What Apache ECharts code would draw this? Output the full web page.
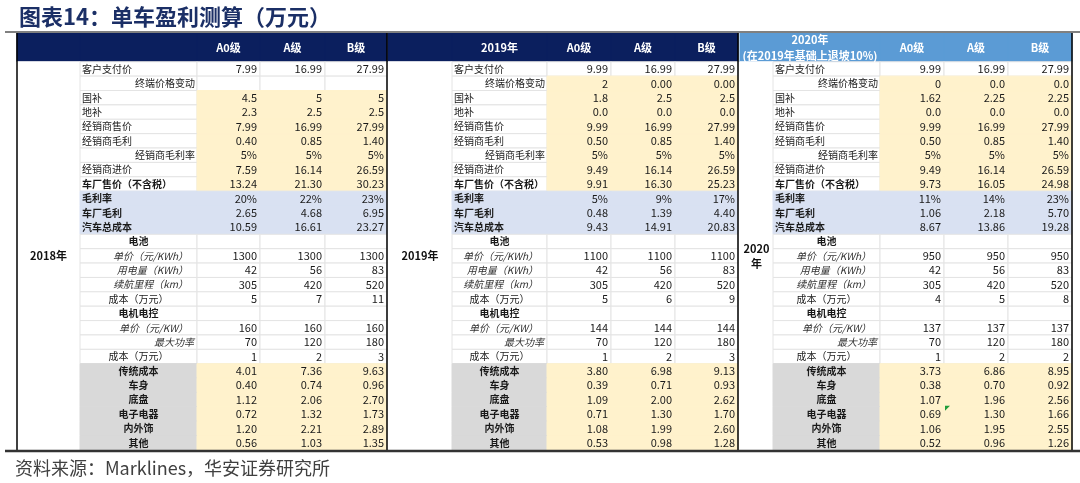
<!DOCTYPE html>
<html><head><meta charset="utf-8">
<script src="https://cdn.jsdelivr.net/npm/echarts@6/dist/echarts.min.js"></script>
<style>html,body{margin:0;padding:0;background:#fff}#c{width:1080px;height:483px}</style>
</head><body><div id="c"></div>
<script>
// ---------------- DATA ----------------
const chartTitle = '图表14：单车盈利测算（万元）';
const sourceText = '资料来源：Marklines，华安证券研究所';
const classes = ['A0级', 'A级', 'B级'];
const headLabels = ['', '2019年', '2020年\n(在2019年基础上退坡10%)'];
const yearLabels = ['2018年', '2019年', '2020\n年'];
const rowLabels = ['客户支付价','终端价格变动','国补','地补','经销商售价','经销商毛利','经销商毛利率','经销商进价','车厂售价（不含税）',
  '毛利率','车厂毛利','汽车总成本','电池','单价（元/KWh）','用电量（KWh）','续航里程（km）','成本（万元）',
  '电机电控','单价（元/KW）','最大功率','成本（万元）','传统成本','车身','底盘','电子电器','内外饰','其他'];

const a0_2018 = ['7.99','','4.5','2.3','7.99','0.40','5%','7.59','13.24','20%','2.65','10.59','','1300','42','305','5','','160','70','1','4.01','0.40','1.12','0.72','1.20','0.56'];
const a_2018  = ['16.99','','5','2.5','16.99','0.85','5%','16.14','21.30','22%','4.68','16.61','','1300','56','420','7','','160','120','2','7.36','0.74','2.06','1.32','2.21','1.03'];
const b_2018  = ['27.99','','5','2.5','27.99','1.40','5%','26.59','30.23','23%','6.95','23.27','','1300','83','520','11','','160','180','3','9.63','0.96','2.70','1.73','2.89','1.35'];

const a0_2019 = ['9.99','2','1.8','0.0','9.99','0.50','5%','9.49','9.91','5%','0.48','9.43','','1100','42','305','5','','144','70','1','3.80','0.39','1.09','0.71','1.08','0.53'];
const a_2019  = ['16.99','0.00','2.5','0.0','16.99','0.85','5%','16.14','16.30','9%','1.39','14.91','','1100','56','420','6','','144','120','2','6.98','0.71','2.00','1.30','1.99','0.98'];
const b_2019  = ['27.99','0.00','2.5','0.0','27.99','1.40','5%','26.59','25.23','17%','4.40','20.83','','1100','83','520','9','','144','180','3','9.13','0.93','2.62','1.70','2.60','1.28'];

const a0_2020 = ['9.99','0','1.62','0.0','9.99','0.50','5%','9.49','9.73','11%','1.06','8.67','','950','42','305','4','','137','70','1','3.73','0.38','1.07','0.69','1.06','0.52'];
const a_2020  = ['16.99','0.0','2.25','0.0','16.99','0.85','5%','16.14','16.05','14%','2.18','13.86','','950','56','420','5','','137','120','2','6.86','0.70','1.96','1.30','1.95','0.96'];
const b_2020  = ['27.99','0.0','2.25','0.0','27.99','1.40','5%','26.59','24.98','23%','5.70','19.28','','950','83','520','8','','137','180','2','8.95','0.92','2.56','1.66','2.55','1.26'];

const panelValues = [[a0_2018, a_2018, b_2018], [a0_2019, a_2019, b_2019], [a0_2020, a_2020, b_2020]];
// cells carrying an Excel comment marker: [panel, classIndex, row]
const commentCells = [[2, 1, 24]];

// ---------------- LAYOUT / STYLE ----------------
const FILL = { w: '#FFFFFF', y: '#FFF2CC', b: '#D9E1F2', g: '#D9D9D9' };
const dataFill  = ['w','t','y','y','y','y','y','y','y','b','b','b','w','w','w','w','w','w','w','w','w','y','y','y','y','y','y'];
const labelFill = ['w','w','w','w','w','w','w','w','w','b','b','b','w','w','w','w','w','w','w','w','w','g','g','g','g','g','g'];
const labelAlign = ['l','r','l','l','l','l','r','l','l','l','l','l','c','r','r','r','c','c','r','r','c','c','c','c','c','c','c'];
const labelBold  = [0,0,0,0,0,0,0,0,1,1,1,1,1,0,0,0,0,1,0,0,0,1,1,1,1,1,1];
const labelItal  = [0,0,0,0,0,0,0,0,0,0,0,0,0,1,1,1,0,0,1,1,0,0,0,0,0,0,0];
const labelPad   = [2,2,2,2,2,2,2,2,2,2,2,2,0,9,9,9,0,0,9,3,0,0,0,0,0,0,0];

const panels = [
  { left: 17,  widths: [63,117,63,65,62], head: '#0B1F5E', rowT: 'w', headMerge: false, vlines: [0, 5] },
  { left: 388, widths: [64,95,64,64,63],  head: '#0B1F5E', rowT: 'y', headMerge: false, vlines: [5] },
  { left: 740, widths: [33,107,64,64,64], head: '#5B9BD5', rowT: 'y', headMerge: true,  vlines: [5] }
];
const GRID_TOP = 33, GRID_H = 417, Y_MAX = 29, HEAD_ROWS = 2;
const CJK = "'Noto Sans CJK SC', sans-serif";
const NUM = "'Liberation Sans Narrow', 'Noto Sans CJK SC', sans-serif";

function buildCells(p) {
  const P = panels[p], cells = [];
  // header
  if (P.headMerge) {
    cells.push({ c0: 0, c1: 2, r0: 0, r1: HEAD_ROWS, fill: P.head, text: headLabels[p], color: '#fff', bold: 1, size: 11, align: 'c', font: CJK, lh: 16 });
  } else {
    cells.push({ c0: 0, c1: 1, r0: 0, r1: HEAD_ROWS, fill: P.head, text: '', color: '#fff' });
    cells.push({ c0: 1, c1: 2, r0: 0, r1: HEAD_ROWS, fill: P.head, text: headLabels[p], color: '#fff', bold: 1, size: 11, align: 'c', font: CJK });
  }
  classes.forEach((t, i) => cells.push({ c0: 2 + i, c1: 3 + i, r0: 0, r1: HEAD_ROWS, fill: P.head, text: t, color: '#fff', bold: 1, size: 11, align: 'c', font: CJK }));
  // year (merged)
  cells.push({ c0: 0, c1: 1, r0: HEAD_ROWS, r1: Y_MAX, fill: '#fff', text: yearLabels[p], color: '#111', bold: 1, size: 11, align: 'c', font: CJK, lh: 15 });
  // rows
  rowLabels.forEach((lab, r) => {
    const lf = FILL[labelFill[r]];
    cells.push({ c0: 1, c1: 2, r0: HEAD_ROWS + r, r1: HEAD_ROWS + r + 1, fill: lf, stroke: labelFill[r] === 'w' ? '#E4E4E4' : lf,
      text: lab, color: labelItal[r] ? '#333' : '#1a1a1a', bold: labelBold[r], italic: labelItal[r], size: 10, align: labelAlign[r], pad: labelPad[r], font: CJK });
    for (let k = 0; k < 3; k++) {
      const kind = dataFill[r] === 't' ? P.rowT : dataFill[r];
      const f = FILL[kind];
      cells.push({ c0: 2 + k, c1: 3 + k, r0: HEAD_ROWS + r, r1: HEAD_ROWS + r + 1, fill: f, stroke: kind === 'w' ? '#E4E4E4' : f,
        text: panelValues[p][k][r], color: '#1a1a1a', size: 11, align: 'r', pad: 3, font: NUM });
    }
  });
  commentCells.filter(m => m[0] === p).forEach(m => cells.push({ kind: 'tri', c0: 2 + m[1], c1: 3 + m[1], r0: HEAD_ROWS + m[2], r1: HEAD_ROWS + m[2] + 1 }));
  P.vlines.forEach(e => cells.push({ kind: 'vline', c0: e, c1: e, r0: 0, r1: Y_MAX }));
  return cells;
}

function edgesOf(P) { const e = [0]; P.widths.forEach(w => e.push(e[e.length - 1] + w)); return e; }

const option = {
  animation: false,
  title: { text: chartTitle, left: 14, top: 1, textStyle: { fontSize: 22, fontWeight: 'bold', color: '#1B2F66', fontFamily: CJK } },
  grid: [], xAxis: [], yAxis: [], series: [],
  graphic: [
    { type: 'line', shape: { x1: 5, y1: 32, x2: 1080, y2: 32 }, style: { stroke: '#808080', lineWidth: 2 }, z: 10 },
    { type: 'line', shape: { x1: 5, y1: 451, x2: 1080, y2: 451 }, style: { stroke: '#333', lineWidth: 2.5 }, z: 10 },
    { type: 'text', x: 15, y: 468, style: { text: sourceText, fontSize: 18, fill: '#404040', fontFamily: CJK, verticalAlign: 'middle' } }
  ]
};

panels.forEach((P, p) => {
  const edges = edgesOf(P);
  const cells = buildCells(p);
  option.grid.push({ left: P.left, top: GRID_TOP, width: edges[edges.length - 1], height: GRID_H });
  option.xAxis.push({ type: 'value', gridIndex: p, min: 0, max: edges[edges.length - 1], show: false });
  option.yAxis.push({ type: 'value', gridIndex: p, min: 0, max: Y_MAX, inverse: true, show: false });
  option.series.push({
    type: 'custom', coordinateSystem: 'cartesian2d', xAxisIndex: p, yAxisIndex: p, clip: false, silent: true,
    z: 2,
    data: cells.map(c => [edges[c.c0], c.r0]),
    renderItem: function (params, api) {
      const c = cells[params.dataIndex];
      const a = api.coord([edges[c.c0], c.r0]);
      const b = api.coord([edges[c.c1], c.r1]);
      if (c.kind === 'vline') {
        return { type: 'line', shape: { x1: a[0], y1: a[1], x2: b[0], y2: b[1] }, style: { stroke: '#000', lineWidth: 1.5 }, z2: 50 };
      }
      if (c.kind === 'tri') {
        return { type: 'polygon', shape: { points: [[a[0] + 1, a[1] - 1], [a[0] + 6, a[1] - 1], [a[0] + 1, a[1] + 4]] }, style: { fill: '#1F9D3A' }, z2: 40 };
      }
      const ch = [{ type: 'rect', shape: { x: a[0], y: a[1], width: b[0] - a[0], height: b[1] - a[1] },
        style: { fill: c.fill, stroke: c.stroke || c.fill, lineWidth: 1 } }];
      if (c.text) {
        let x, align;
        if (c.align === 'l') { x = a[0] + (c.pad || 2); align = 'left'; }
        else if (c.align === 'r') { x = b[0] - (c.pad || 0); align = 'right'; }
        else { x = (a[0] + b[0]) / 2; align = 'center'; }
        ch.push({ type: 'text', z2: 20, style: { text: c.text, x: x, y: (a[1] + b[1]) / 2, align: align, verticalAlign: 'middle',
          fill: c.color, fontSize: c.size, fontFamily: c.font, fontWeight: c.bold ? 'bold' : 'normal', fontStyle: c.italic ? 'italic' : 'normal',
          lineHeight: c.lh || c.size + 3 } });
      }
      return { type: 'group', children: ch };
    }
  });
});

const chart = echarts.init(document.getElementById('c'), null, { renderer: 'canvas' });
chart.setOption(option);
</script>
</body></html>
